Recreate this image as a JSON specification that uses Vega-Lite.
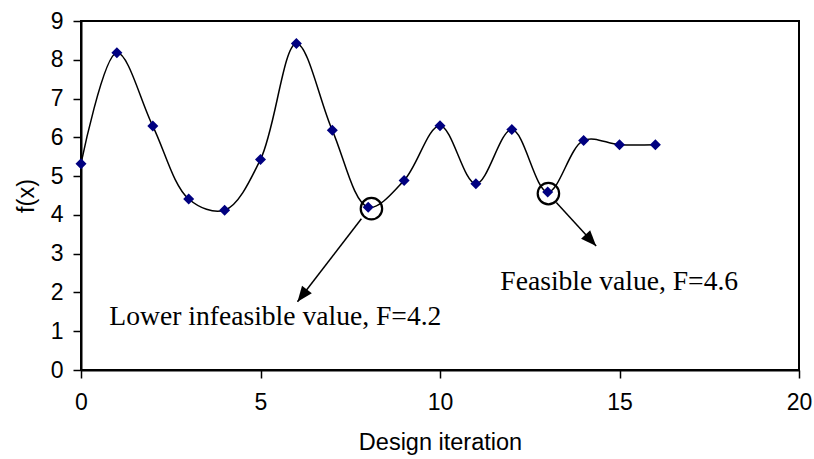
{
  "$schema": "https://vega.github.io/schema/vega-lite/v6.json",
  "autosize": {"type": "none"},
  "padding": {"left": 81, "top": 21, "right": 15, "bottom": 89},
  "width": 718,
  "height": 349,
  "background": "white",
  "config": {
    "view": {"stroke": "black", "strokeWidth": 2},
    "axis": {"labelOverlap": false, "labelSeparation": 0}
  },
  "datasets": {
    "series": [
      {"iter": 0, "f": 5.32}, {"iter": 1, "f": 8.18}, {"iter": 2, "f": 6.29}, {"iter": 3, "f": 4.41},
      {"iter": 4, "f": 4.12}, {"iter": 5, "f": 5.43}, {"iter": 6, "f": 8.42}, {"iter": 7, "f": 6.18},
      {"iter": 8, "f": 4.2}, {"iter": 9, "f": 4.89}, {"iter": 10, "f": 6.3}, {"iter": 11, "f": 4.8},
      {"iter": 12, "f": 6.2}, {"iter": 13, "f": 4.59}, {"iter": 14, "f": 5.92}, {"iter": 15, "f": 5.81},
      {"iter": 16, "f": 5.81}
    ],
    "circles": [{"cx": 8.09, "cy": 4.16}, {"cx": 13.02, "cy": 4.55}],
    "arrows": [
      {"x1": 7.81, "y1": 3.9, "x2": 6.03, "y2": 1.76, "ang": 217.6},
      {"x1": 13.24, "y1": 4.32, "x2": 14.35, "y2": 3.2, "ang": 137.1}
    ],
    "notes": [
      {"tx": 0.79, "ty": 1.16, "label": "Lower infeasible value, F=4.2"},
      {"tx": 11.68, "ty": 2.07, "label": "Feasible value, F=4.6"}
    ]
  },
  "encoding": {
    "x": {"type": "quantitative",
          "scale": {"domain": [0, 20], "nice": false, "zero": false},
          "axis": {"tickCount": 4, "title": "Design iteration", "grid": false,
                   "domainColor": "black", "domainWidth": 2, "tickColor": "black", "tickWidth": 1.5, "tickSize": 8,
                   "labelFont": "Liberation Sans", "labelFontSize": 23, "labelColor": "black", "labelOverlap": false, "labelFlush": false,
                   "titleFont": "Liberation Sans", "titleFontSize": 23.5, "titleFontWeight": "normal", "titleColor": "black",
                   "labelPadding": 13, "titlePadding": 16}},
    "y": {"type": "quantitative",
          "scale": {"domain": [0, 9], "nice": false, "zero": false},
          "axis": {"tickCount": 9, "tickMinStep": 1, "title": "f(x)", "grid": false,
                   "domainColor": "black", "domainWidth": 2, "tickColor": "black", "tickWidth": 1.5, "tickSize": 8,
                   "labelFont": "Liberation Sans", "labelFontSize": 23, "labelColor": "black", "labelOverlap": false, "labelFlush": false, "labelSeparation": 0,
                   "titleFont": "Liberation Sans", "titleFontSize": 23.5, "titleFontWeight": "normal", "titleColor": "black",
                   "labelPadding": 10, "titlePadding": 12}}
  },
  "layer": [
    {
      "data": {"name": "series"},
      "mark": {"type": "line", "interpolate": "catmull-rom", "color": "black", "strokeWidth": 1.5},
      "encoding": {
        "x": {"field": "iter", "type": "quantitative"},
        "y": {"field": "f", "type": "quantitative"}
      }
    },
    {
      "data": {"name": "series"},
      "mark": {"type": "point", "shape": "diamond", "filled": true, "color": "#000080", "size": 121, "opacity": 1},
      "encoding": {
        "x": {"field": "iter", "type": "quantitative"},
        "y": {"field": "f", "type": "quantitative"}
      }
    },
    {
      "data": {"name": "circles"},
      "mark": {"type": "point", "shape": "circle", "filled": false, "color": "black", "strokeWidth": 2.2, "size": 460, "opacity": 1},
      "encoding": {
        "x": {"field": "cx", "type": "quantitative"},
        "y": {"field": "cy", "type": "quantitative"}
      }
    },
    {
      "data": {"name": "arrows"},
      "mark": {"type": "rule", "color": "black", "strokeWidth": 1.5},
      "encoding": {
        "x": {"field": "x1", "type": "quantitative"},
        "y": {"field": "y1", "type": "quantitative"},
        "x2": {"field": "x2"},
        "y2": {"field": "y2"}
      }
    },
    {
      "data": {"name": "arrows"},
      "mark": {"type": "point", "shape": "M0,0L0.8,2L-0.8,2Z", "filled": true, "color": "black", "size": 240, "opacity": 1},
      "encoding": {
        "x": {"field": "x2", "type": "quantitative"},
        "y": {"field": "y2", "type": "quantitative"},
        "angle": {"field": "ang", "type": "quantitative", "scale": null}
      }
    },
    {
      "data": {"name": "notes"},
      "mark": {"type": "text", "font": "Liberation Serif", "fontSize": 27.6, "align": "left", "baseline": "alphabetic", "color": "black"},
      "encoding": {
        "x": {"field": "tx", "type": "quantitative"},
        "y": {"field": "ty", "type": "quantitative"},
        "text": {"field": "label"}
      }
    }
  ]
}
